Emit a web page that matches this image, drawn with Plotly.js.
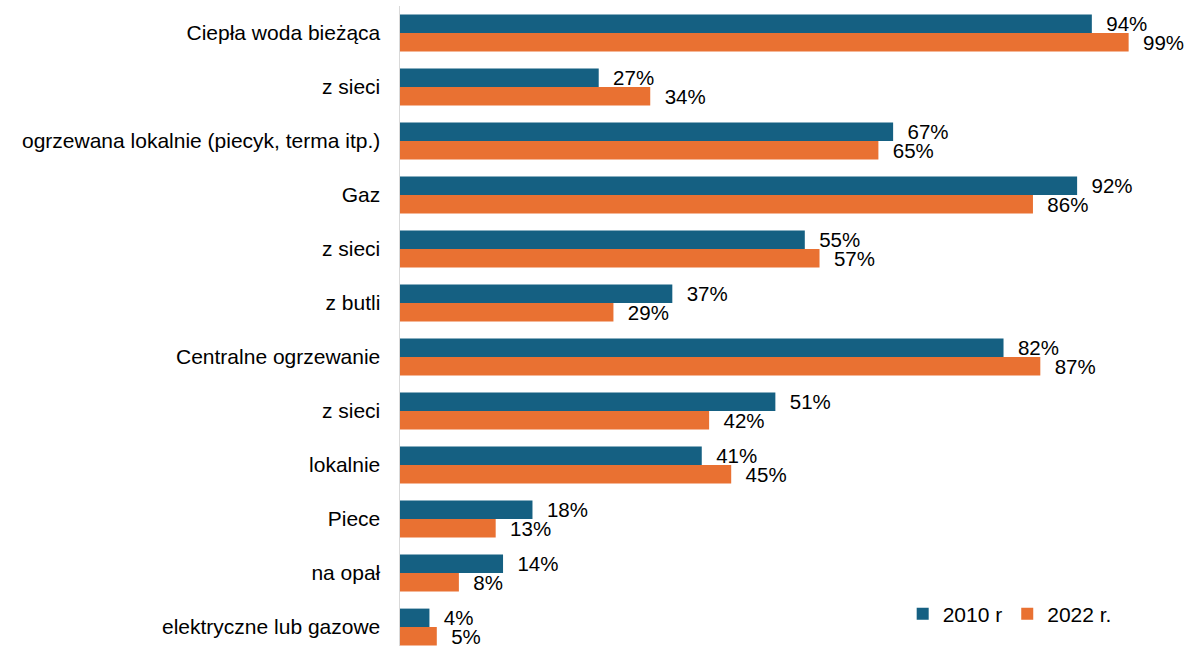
<!DOCTYPE html>
<html>
<head>
<meta charset="utf-8">
<script src="https://cdn.plot.ly/plotly-3.0.1.min.js"></script>
<style>html,body{margin:0;padding:0;overflow:hidden;background:#fff}#chart{width:1188px;height:646px}</style>
</head>
<body>
<div id="chart"></div>
<script>
const categories = [
  "Ciepła woda bieżąca",
  "z sieci",
  "ogrzewana lokalnie (piecyk, terma itp.)",
  "Gaz",
  "z sieci",
  "z butli",
  "Centralne ogrzewanie",
  "z sieci",
  "lokalnie",
  "Piece",
  "na opał",
  "elektryczne lub gazowe"
];
const values2010 = [94, 27, 67, 92, 55, 37, 82, 51, 41, 18, 14, 4];
const values2022 = [99, 34, 65, 86, 57, 29, 87, 42, 45, 13, 8, 5];
const seriesNames = ["2010 r", "2022 r."];

const idx = categories.map((c, i) => i);
const lbl = v => '\u00A0\u00A0' + v + '%';
const font = "Liberation Sans, Arial, sans-serif";

const common = {
  type: 'bar', orientation: 'h', y: idx,
  textposition: 'outside', constraintext: 'none', cliponaxis: false,
  textfont: {family: font, size: 20.5, color: '#000'},
  hoverinfo: 'x'
};

const data = [
  Object.assign({}, common, {name: seriesNames[0], x: values2010, text: values2010.map(lbl), marker: {color: '#156082'}}),
  Object.assign({}, common, {name: seriesNames[1], x: values2022, text: values2022.map(lbl), marker: {color: '#E97132'}})
];

const layout = {
  width: 1188, height: 646,
  margin: {l: 400, r: 52, t: 6, b: 0},
  paper_bgcolor: '#fff', plot_bgcolor: '#fff',
  barmode: 'group', bargap: 0.315, bargroupgap: 0,
  font: {family: font, size: 21, color: '#000'},
  xaxis: {range: [0, 100], visible: false, showgrid: false, zeroline: false},
  yaxis: {
    range: [11.35, -0.5], tickvals: idx, ticktext: categories,
    showline: true, linecolor: '#D9D9D9', linewidth: 1.5,
    showgrid: false, zeroline: false, ticks: '', ticklabelstandoff: 14,
    tickfont: {family: font, size: 21, color: '#000'}
  },
  showlegend: true,
  legend: {
    orientation: 'h', x: 0.683, y: 0.05, xanchor: 'left', yanchor: 'middle',
    font: {family: font, size: 21, color: '#000'}, itemwidth: 30,
    bgcolor: 'rgba(0,0,0,0)', traceorder: 'normal'
  }
};

Plotly.newPlot('chart', data, layout, {displayModeBar: false, staticPlot: true});
</script>
</body>
</html>
